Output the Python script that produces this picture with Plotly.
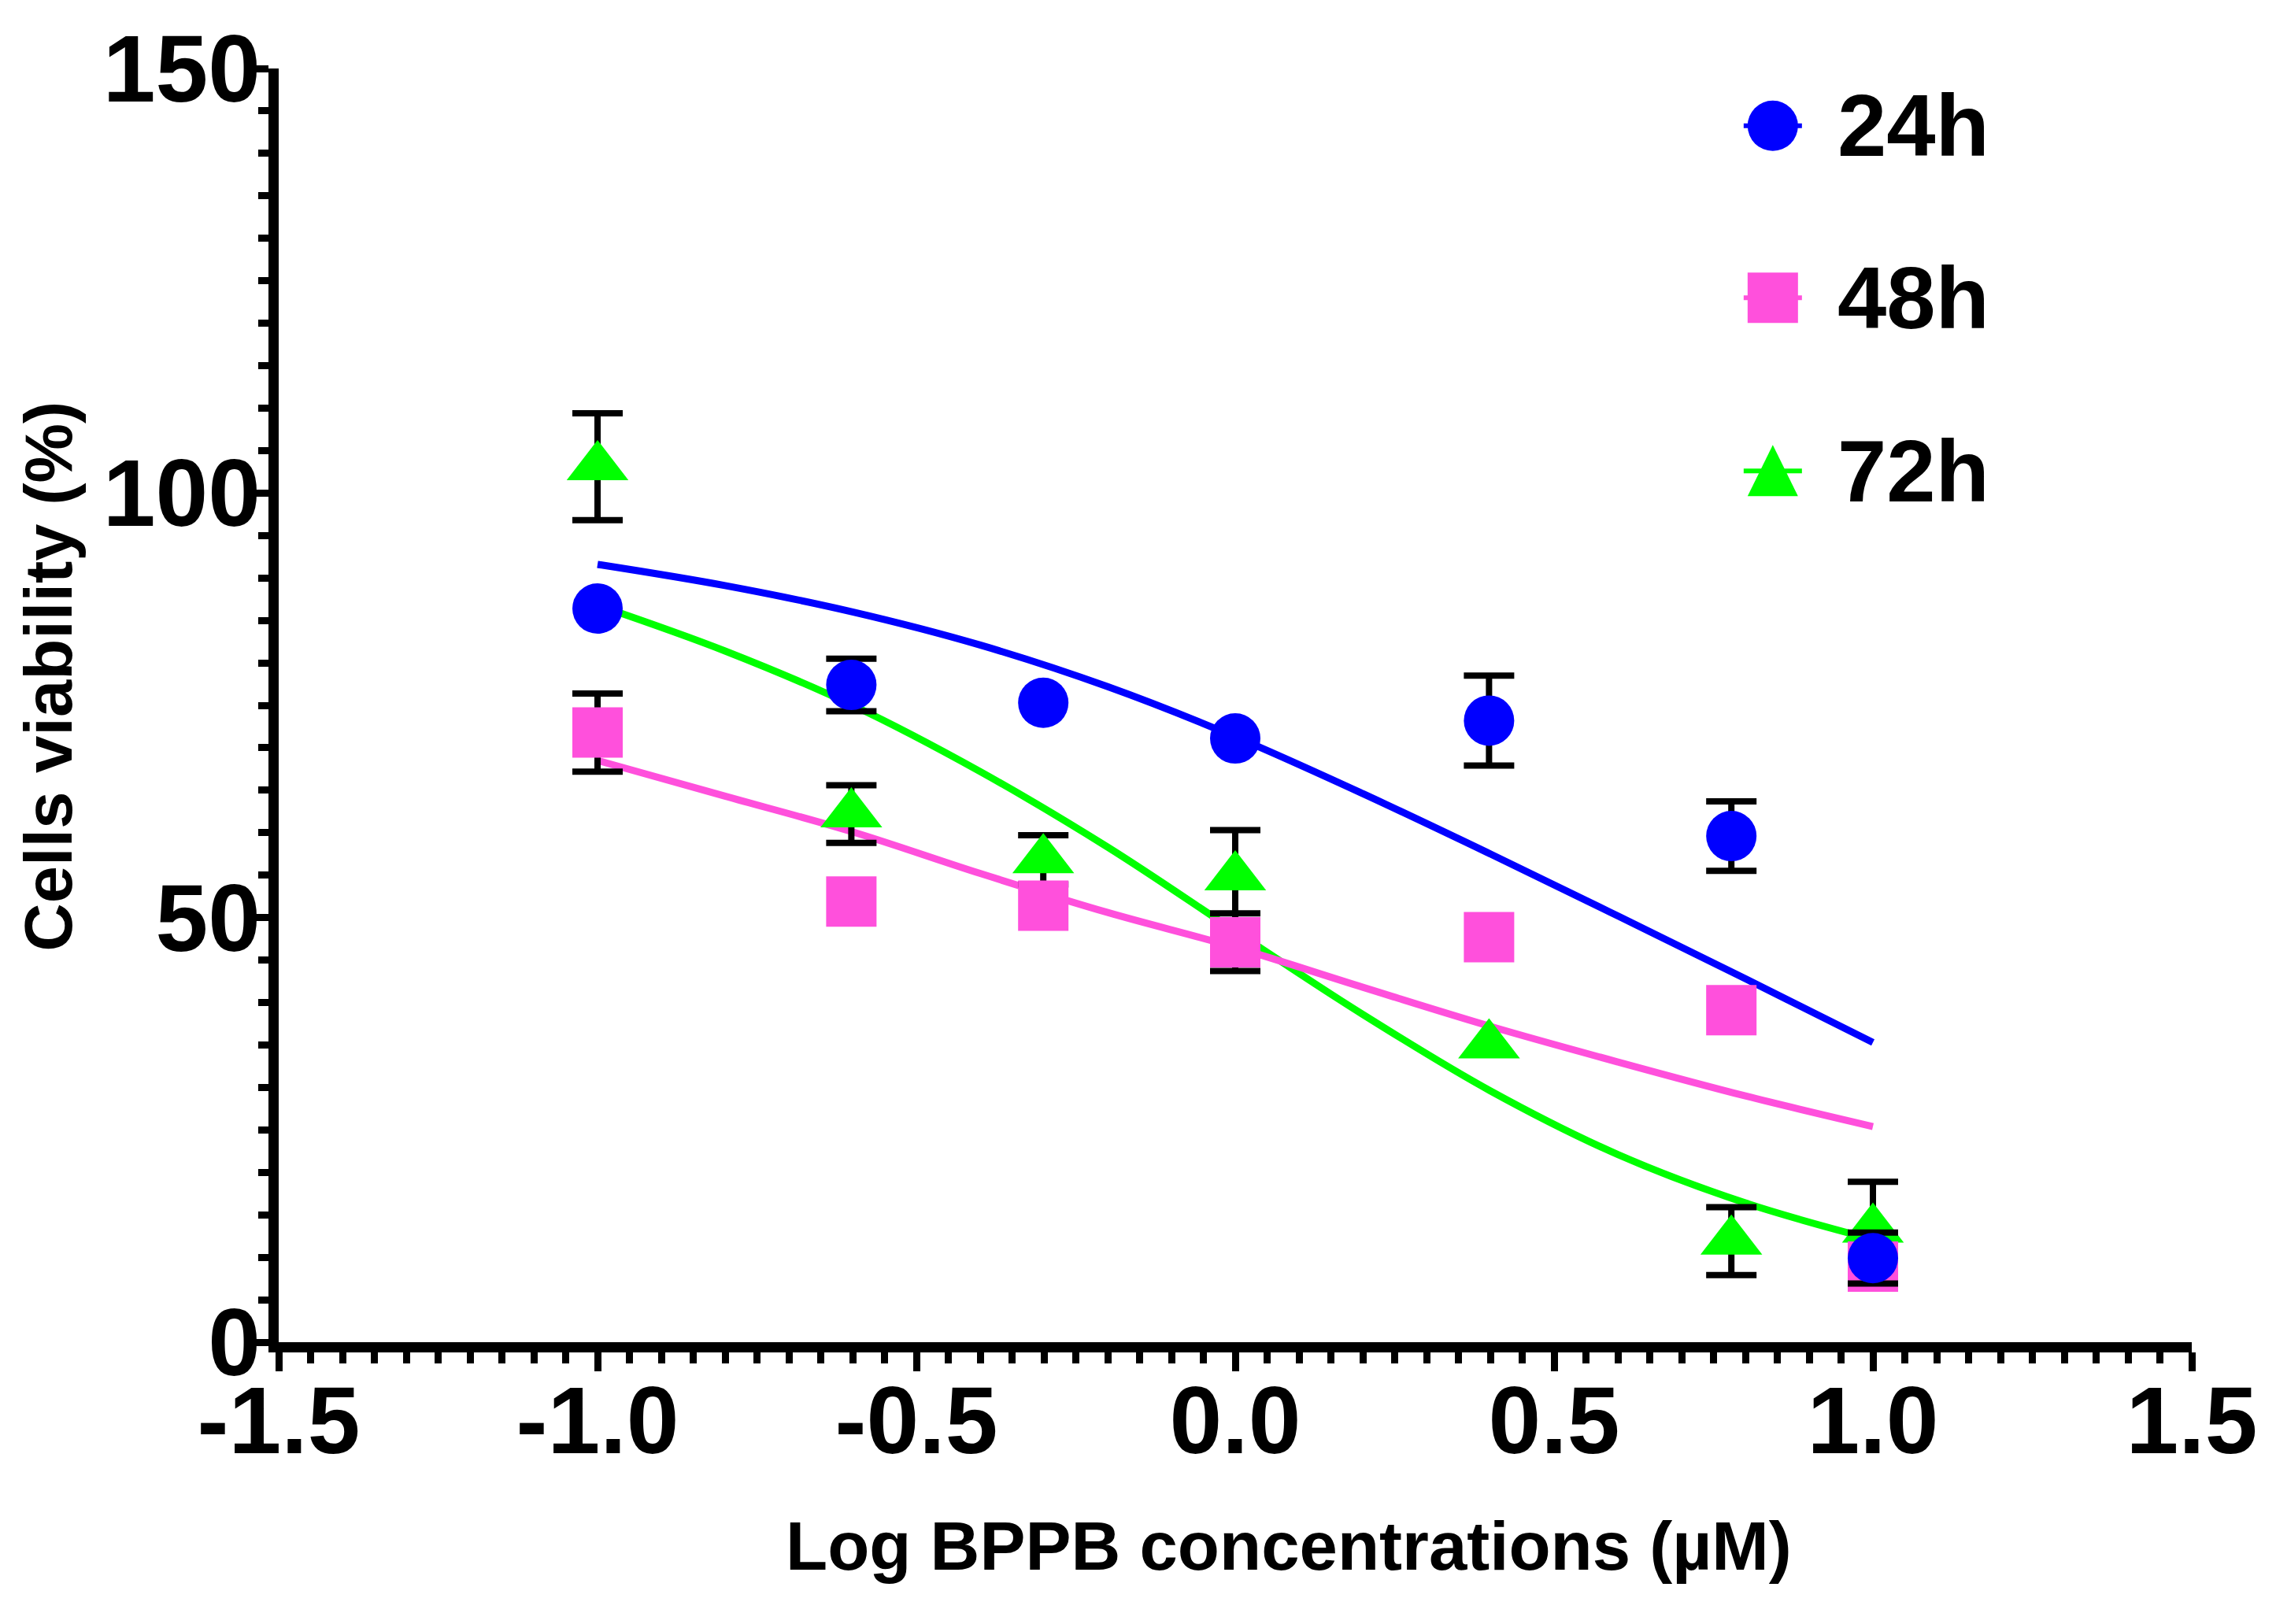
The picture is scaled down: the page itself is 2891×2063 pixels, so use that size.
import plotly.graph_objects as go

# log10 of BPPB concentration (uM)
log_conc = [-1.0, -0.602, -0.301, 0.0, 0.398, 0.778, 1.0]

# mean viability (%) and SD per time point (None = bar hidden behind the symbol)
v24 = [86.4, 77.4, 75.3, 71.1, 73.2, 59.6, 9.9]
e24 = [None, 3.1, None, None, 5.3, 4.1, 3.0]
v48 = [71.8, 51.9, 51.4, 47.1, 47.7, 39.1, 8.9]
e48 = [4.6, None, None, 3.4, None, None, None]
v72 = [103.1, 62.2, 56.8, 54.8, 35.0, 11.9, 13.3]
e72 = [6.3, 3.4, 2.9, 5.5, None, 4.0, 5.6]

# fitted curves
fit_x = [-1.0, -0.8, -0.6, -0.4, -0.2, 0.0, 0.2, 0.4, 0.6, 0.8, 1.0]
fit24 = [91.6, 89.1, 86.0, 82.1, 77.2, 71.3, 64.6, 57.5, 50.2, 42.8, 35.3]
fit48 = [68.5, 64.3, 60.1, 55.2, 50.6, 46.5, 41.8, 37.2, 33.0, 29.0, 25.4]
fit72 = [86.8, 81.4, 75.0, 67.2, 58.3, 48.4, 38.6, 29.6, 22.1, 16.4, 12.1]

x_ticks = [-1.5, -1.0, -0.5, 0.0, 0.5, 1.0, 1.5]
x_ticktext = ["-1.5", "-1.0", "-0.5", "0.0", "0.5", "1.0", "1.5"]
y_ticks = [0, 50, 100, 150]
y_ticktext = ["0", "50", "100", "150"]

labels = ["24h", "48h", "72h"]
BLUE = "#0000FF"
PINK = "#FF50DC"
GREEN = "#00FF00"
FONT = "Liberation Sans, Arial, sans-serif"

fig = go.Figure()

#fit lines go under the points
for fy, col in [(fit72, GREEN), (fit48, PINK), (fit24, BLUE)]:
    fig.add_trace(go.Scatter(x=fit_x, y=fy, mode="lines",
                             line=dict(color=col, width=9, shape="spline", smoothing=1),
                             showlegend=False, hoverinfo="skip"))

def add_series(vals, errs, symbol, size, col, name):
    # error bars only where the SD shows, as their own trace
    ex = [x for x, e in zip(log_conc, errs) if e is not None]
    ey = [v for v, e in zip(vals, errs) if e is not None]
    ee = [e for e in errs if e is not None]
    fig.add_trace(go.Scatter(x=ex, y=ey, mode="markers", marker=dict(size=1, opacity=0),
                             error_y=dict(type="data", array=ee, visible=True, color="black",
                                          thickness=8, width=32),
                             showlegend=False, hoverinfo="skip"))
    fig.add_trace(go.Scatter(x=log_conc, y=vals, mode="markers", name=name,
                             marker=dict(symbol=symbol, size=size, color=col, line=dict(width=0))))

#72h first so 24h ends on top
add_series(v72, e72, "triangle-up", 68, GREEN, labels[2])
add_series(v48, e48, "square", 64, PINK, labels[1])
add_series(v24, e24, "circle", 64, BLUE, labels[0])

axis_common = dict(showline=True, linecolor="black", linewidth=13, ticks="outside",
                   tickcolor="black", tickwidth=9, ticklen=24, showgrid=False, zeroline=False,
                   tickfont=dict(family=FONT, size=120, color="black", weight="bold"))

fig.update_xaxes(range=[-1.5, 1.5], tickvals=x_ticks, ticktext=x_ticktext,
                 minor=dict(dtick=0.05, tick0=-1.5, ticks="outside", ticklen=14, tickwidth=9, tickcolor="black"),
                 ticklabelstandoff=-40, **axis_common)
fig.update_yaxes(range=[0, 150], tickvals=y_ticks, ticktext=y_ticktext,
                 minor=dict(dtick=5, tick0=0, ticks="outside", ticklen=13, tickwidth=9, tickcolor="black"),
                 ticklabelstandoff=-38, **axis_common)

# legend drawn by hand so the symbols can be as big as the plotted ones
shapes = []
annots = []
leg_y = [0.955, 0.820, 0.684]
leg_x = 0.781
cols = [BLUE, PINK, GREEN]
for i in range(3):
    yy = leg_y[i]
    shapes.append(dict(type="line", xref="paper", yref="paper", xsizemode="pixel", ysizemode="pixel",
                       xanchor=leg_x, yanchor=yy, x0=-37, x1=37, y0=0, y1=0,
                       line=dict(color=cols[i], width=6)))
    if i == 0:
        shapes.append(dict(type="circle", xref="paper", yref="paper", xsizemode="pixel", ysizemode="pixel",
                           xanchor=leg_x, yanchor=yy, x0=-32, x1=32, y0=-32, y1=32,
                           fillcolor=cols[i], line=dict(width=0)))
    elif i == 1:
        shapes.append(dict(type="rect", xref="paper", yref="paper", xsizemode="pixel", ysizemode="pixel",
                           xanchor=leg_x, yanchor=yy, x0=-32, x1=32, y0=-32, y1=32,
                           fillcolor=cols[i], line=dict(width=0)))
    else:
        shapes.append(dict(type="path", xref="paper", yref="paper", xsizemode="pixel", ysizemode="pixel",
                           xanchor=leg_x, yanchor=yy, path="M -32,-32 L 32,-32 L 0,33 Z",
                           fillcolor=cols[i], line=dict(width=0)))
    annots.append(dict(x=0.814, y=yy, xref="paper", yref="paper", text=labels[i], showarrow=False,
                       xanchor="left", yanchor="middle",
                       font=dict(family=FONT, size=112, color="black", weight="bold")))

annots.append(dict(x=-0.1202, y=0.523, xref="paper", yref="paper", text="Cells viability (%)",
                   textangle=-90, showarrow=False, xanchor="center", yanchor="middle",
                   font=dict(family=FONT, size=85, color="black", weight="bold")))
annots.append(dict(x=0.528, y=-0.160, xref="paper", yref="paper", text="Log BPPB concentrations (µM)",
                   showarrow=False, xanchor="center", yanchor="middle",
                   font=dict(family=FONT, size=87, color="black", weight="bold")))

fig.update_layout(width=2875, height=2047, margin=dict(l=346, r=99, t=75, b=350),
                  plot_bgcolor="white", paper_bgcolor="white", showlegend=False,
                  shapes=shapes, annotations=annots)

fig.write_html("out.html")
